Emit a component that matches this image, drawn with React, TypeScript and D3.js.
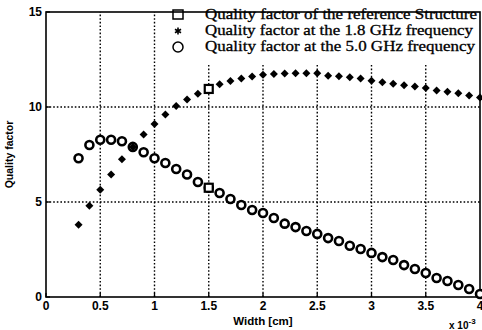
import React from 'react';
import * as d3 from 'd3';

const widths = [
  0.3, 0.4, 0.5, 0.6, 0.7, 0.8, 0.9, 1.0, 1.1, 1.2, 1.3, 1.4, 1.5, 1.6, 1.7, 1.8, 1.9, 2.0, 2.1,
  2.2, 2.3, 2.4, 2.5, 2.6, 2.7, 2.8, 2.9, 3.0, 3.1, 3.2, 3.3, 3.4, 3.5, 3.6, 3.7, 3.8, 3.9, 4.0,
];
const q18 = [
  3.8, 4.8, 5.65, 6.45, 7.25, 7.9, 8.55, 9.1, 9.6, 10.05, 10.4, 10.7, 10.95, 11.2, 11.37, 11.5,
  11.6, 11.7, 11.74, 11.76, 11.78, 11.78, 11.78, 11.65, 11.62, 11.57, 11.5, 11.38, 11.3, 11.22,
  11.15, 11.08, 11.0, 10.87, 10.8, 10.72, 10.6, 10.5,
];
const q50 = [
  7.3, 8.0, 8.28, 8.28, 8.2, 7.9, 7.62, 7.3, 7.05, 6.74, 6.45, 6.05, 5.75, 5.47, 5.16, 4.84,
  4.58, 4.42, 4.16, 3.86, 3.68, 3.47, 3.32, 3.1, 2.95, 2.7, 2.53, 2.32, 2.1, 1.95, 1.68, 1.47,
  1.26, 1.0, 0.84, 0.63, 0.42, 0.16,
];
const refWidths = [1.5, 1.5];
const refValues = [10.95, 5.75];

const xTicks = [0, 0.5, 1, 1.5, 2, 2.5, 3, 3.5, 4];
const yTicks = [0, 5, 10, 15];
const legendLabels = [
  'Quality factor of the reference Structure',
  'Quality factor at the 1.8 GHz frequency',
  'Quality factor at the 5.0 GHz frequency',
];
const legendLengths = [272, 268, 270];

const margin = { l: 46, r: 2, t: 12, b: 33 };
const W = 482;
const H = 330;

export default function App() {
  const x = d3.scaleLinear().domain([0, 4]).range([margin.l, W - margin.r]);
  const y = d3.scaleLinear().domain([0, 15]).range([H - margin.b, margin.t]);
  const diamond = d3.symbol(d3.symbolSquare, 32)();
  const star = d3.symbol(d3.symbolAsterisk, 34)();
  const tickFont = { fontFamily: 'Liberation Sans, Arial, sans-serif', fontWeight: 700, fontSize: 12 };

  return (
    <svg width={W} height={H} style={{ position: 'absolute', left: 0, top: 0, background: '#fff' }}>
      <rect width={W} height={H} fill="#fff" />
      {/* grid */}
      <g stroke="#000" strokeWidth={1.4} strokeDasharray="1.6,2">
        {xTicks.slice(1, -1).map((t) => (
          <line key={'gx' + t} x1={x(t)} x2={x(t)} y1={y(0)} y2={y(15)} />
        ))}
        {yTicks.slice(1, -1).map((t) => (
          <line key={'gy' + t} x1={x(0)} x2={x(4)} y1={y(t)} y2={y(t)} />
        ))}
      </g>
      {/* frame */}
      <rect x={x(0)} y={y(15)} width={x(4) - x(0)} height={y(0) - y(15)} fill="none" stroke="#000" strokeWidth={1.6} />
      {/* ticks */}
      <g stroke="#000" strokeWidth={1.3}>
        {xTicks.map((t) => (
          <line key={'tx' + t} x1={x(t)} x2={x(t)} y1={y(0)} y2={y(0) - 4} />
        ))}
        {yTicks.map((t) => (
          <line key={'ty' + t} x1={x(0)} x2={x(0) + 4} y1={y(t)} y2={y(t)} />
        ))}
      </g>
      <g style={tickFont}>
        {xTicks.map((t) => (
          <text key={'lx' + t} x={x(t)} y={y(0) + 13} textAnchor="middle">
            {t}
          </text>
        ))}
        {yTicks.map((t) => (
          <text key={'ly' + t} x={x(0) - 4} y={y(t) + 4} textAnchor="end">
            {t}
          </text>
        ))}
        <text x={263} y={325} textAnchor="middle" fontSize={11.5}>
          Width [cm]
        </text>
        <text x={449} y={329} fontSize={10}>
          x 10
          <tspan dy={-5} fontSize={8}>-3</tspan>
        </text>
        <text transform={`translate(13,${(y(0) + y(15)) / 2}) rotate(-90)`} textAnchor="middle" fontSize={10.5}>
          Quality factor
        </text>
      </g>
      {/* 5.0 GHz circles */}
      <g fill="#fff" stroke="#000" strokeWidth={2.6}>
        {widths.map((w, i) => (
          <circle key={'c' + i} cx={x(w)} cy={y(q50[i])} r={4} />
        ))}
      </g>
      {/* 1.8 GHz diamonds */}
      <g fill="#000">
        {widths.map((w, i) => (
          <path key={'d' + i} d={diamond} transform={`translate(${x(w)},${y(q18[i])}) rotate(45)`} />
        ))}
      </g>
      {/* reference squares */}
      <g fill="#fff" stroke="#000" strokeWidth={2.2}>
        {refWidths.map((w, i) => (
          <rect key={'s' + i} x={x(w) - 4} y={y(refValues[i]) - 4} width={8} height={8} />
        ))}
      </g>
      {/* legend */}
      <rect x={168} y={13} width={310} height={50} fill="#fff" />
      <rect x={173} y={10} width={10} height={9} fill="none" stroke="#000" strokeWidth={1.5} />
      <path d={star} transform="translate(178,31)" fill="#000" stroke="#000" strokeWidth={1.6} />
      <circle cx={178} cy={47} r={5} fill="none" stroke="#000" strokeWidth={1.5} />
      <g style={{ fontFamily: 'Liberation Serif, Times New Roman, serif', fontSize: 14.5 }} stroke="#000" strokeWidth={0.3}>
        {legendLabels.map((l, i) => (
          <text key={l} x={205} y={19 + i * 16} textLength={legendLengths[i]} lengthAdjust="spacingAndGlyphs">
            {l}
          </text>
        ))}
      </g>
    </svg>
  );
}
